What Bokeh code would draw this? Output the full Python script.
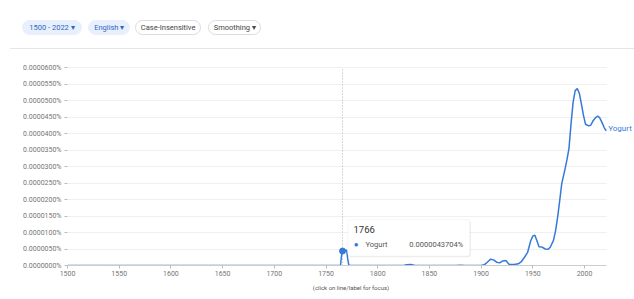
from bokeh.plotting import figure
from bokeh.models import (ColumnDataSource, Range1d, FixedTicker, PrintfTickFormatter,
                          Label, BoxAnnotation, Div)
from bokeh.layouts import column
from bokeh.embed import file_html
from bokeh.resources import INLINE

# ---- data (values are in percent) ----
years = [1500, 1760, 1764, 1765, 1766, 1767, 1770, 1771, 1772, 1773,
         1825, 1828, 1832, 1836, 1875, 1880, 1885, 1900, 1903, 1906,
         1909, 1912, 1915, 1918, 1921, 1924, 1927, 1932, 1936, 1939,
         1942, 1945, 1948, 1950, 1952, 1954, 1956, 1959, 1962, 1965,
         1967, 1970, 1972, 1974, 1976, 1978, 1981, 1983, 1985, 1987,
         1989, 1991, 1993, 1995, 1997, 1999, 2001, 2004, 2006, 2008,
         2011, 2013, 2015, 2017, 2019, 2021]
yogurt = [0.0, 0.0, 0.0, 0.0000030, 0.0000043704, 0.0000046, 0.0000046, 0.0000020, 0.0000002, 0.0,
          0.0, 0.0000002, 0.0000003, 0.0, 0.0, 0.0000001, 0.0, 0.0, 0.0000002, 0.0000010,
          0.0000019, 0.0000017, 0.0000010, 0.0000008, 0.0000014, 0.0000015, 0.0000004, 0.0000003, 0.0000005, 0.0000012,
          0.0000025, 0.0000040, 0.0000075, 0.0000089, 0.0000092, 0.0000075, 0.0000057, 0.0000056, 0.0000050, 0.0000049,
          0.0000056, 0.0000076, 0.0000105, 0.0000146, 0.0000196, 0.0000248, 0.0000290, 0.0000320, 0.0000355, 0.0000430,
          0.0000495, 0.0000530, 0.0000536, 0.0000522, 0.0000490, 0.0000455, 0.0000428, 0.0000423, 0.0000425, 0.0000437,
          0.0000449, 0.0000453, 0.0000446, 0.0000433, 0.0000418, 0.0000408]
series_name = "Yogurt"
focus_year = 1766
focus_value = 0.0000043704
focus_text = "0.0000043704%"
y_ticks = [0.0, 0.000005, 0.00001, 0.000015, 0.00002, 0.000025, 0.00003,
           0.000035, 0.00004, 0.000045, 0.00005, 0.000055, 0.00006]
x_ticks = [1500, 1550, 1600, 1650, 1700, 1750, 1800, 1850, 1900, 1950, 2000]
x_start, x_last = 1500, 2021.5
pills = ["1500 - 2022 \u25BE", "English \u25BE", "Case-Insensitive", "Smoothing \u25BE"]
footer = "(click on line/label for focus)"

FONT = "Roboto"
BLUE = "#3579d9"

# ---- header (controls row + separator) ----
pill_boxes = [(22.3, 61.4), (88.3, 44.0), (135.0, 68.3), (208.3, 55.0)]
html = ['<div style="position:relative;width:634px;height:56px;font-family:Roboto,sans-serif;">']
for i, (t, (lx, w)) in enumerate(zip(pills, pill_boxes)):
    if i < 2:
        style = "background:#e8f0fe;color:#2f66c4;border:1px solid #e8f0fe;"
    else:
        style = "background:#ffffff;color:#444444;border:1px solid #dadce0;"
    html.append(
        f'<span style="position:absolute;left:{lx}px;top:20px;width:{w - 2}px;height:14.7px;'
        f'line-height:14.7px;border-radius:9px;font-size:7.5px;text-align:center;'
        f'white-space:nowrap;{style}">{t}</span>')
html.append('<div style="position:absolute;left:10px;top:47.5px;width:624px;height:1px;background:#e6e6e6;"></div>')
html.append('</div>')
header = Div(text="".join(html), width=634, height=56, margin=(0, 0, 0, 0))

# ---- chart ----
px_per_year = 517 / 500
x_end = x_start + 567 / px_per_year
y_end = y_ticks[-1] * (265 - 56) / 198

p = figure(width=634, height=243, output_backend="svg", toolbar_location=None,
           x_range=Range1d(x_start, x_end), y_range=Range1d(0, y_end),
           min_border_left=67, min_border_right=0, min_border_top=0, min_border_bottom=34,
           margin=(0, 0, 0, 0))
p.outline_line_color = None
p.background_fill_color = "white"
p.border_fill_color = "white"

p.xaxis.ticker = FixedTicker(ticks=x_ticks)
p.yaxis.ticker = FixedTicker(ticks=y_ticks)
p.yaxis.formatter = PrintfTickFormatter(format="%.7f%%")
for ax in (p.xaxis[0], p.yaxis[0]):
    ax.major_label_text_font = FONT
    ax.major_label_text_font_size = "7px"
    ax.major_label_text_color = "#757575"
    ax.minor_tick_line_color = None
    ax.major_tick_line_color = "#bbbbbb"
    ax.major_tick_in = 0
p.yaxis.axis_line_color = None
p.yaxis.major_tick_out = 3
p.yaxis.major_label_standoff = 3
p.xaxis.axis_line_color = "#cccccc"
p.xaxis.bounds = (x_start, x_last)
p.xaxis.major_tick_out = 3
p.xaxis.major_label_standoff = 2
p.xaxis.axis_label = footer
p.xaxis.axis_label_text_font = FONT
p.xaxis.axis_label_text_font_size = "6px"
p.xaxis.axis_label_text_font_style = "normal"
p.xaxis.axis_label_text_color = "#555555"
p.xaxis.axis_label_standoff = 5
p.xgrid.grid_line_color = None
p.ygrid.grid_line_color = "#f0f0f0"

# hide grid beyond the last year
p.add_layout(BoxAnnotation(left=x_last, level="underlay", fill_color="white",
                           fill_alpha=1, line_color=None))

# hover guide
p.segment(x0=[focus_year], y0=[0], x1=[focus_year], y1=[y_ticks[-1]],
          line_color="#b0b0b0", line_dash="1 2", line_width=1)

src = ColumnDataSource(dict(year=years, value=yogurt))
p.line("year", "value", source=src, line_color=BLUE, line_width=1.5)
p.scatter([focus_year], [focus_value], size=6, color=BLUE)

p.add_layout(Label(x=years[-1], y=yogurt[-1], text=series_name, x_offset=2, y_offset=2,
                   text_font=FONT, text_font_size="8px", text_color=BLUE,
                   text_baseline="middle", text_align="left"))

# page px -> frame-relative screen units (frame left = 67, bottom = 265 on page)
def sx(px):
    return px - 67
def sy(py):
    return 265 - py

# tooltip
p.add_layout(BoxAnnotation(left=sx(348.3), right=sx(470.3), top=sy(220), bottom=sy(256.7),
                           left_units="screen", right_units="screen",
                           top_units="screen", bottom_units="screen",
                           fill_color="black", fill_alpha=0.08, line_color=None,
                           border_radius=3))
p.add_layout(BoxAnnotation(left=sx(347.3), right=sx(469.3), top=sy(219), bottom=sy(255.7),
                           left_units="screen", right_units="screen",
                           top_units="screen", bottom_units="screen",
                           fill_color="white", fill_alpha=1, line_color="#e6e6e6",
                           border_radius=3))
p.add_layout(Label(x=sx(353), y=sy(229.3), x_units="screen", y_units="screen",
                   text=str(focus_year), text_font=FONT, text_font_size="9.5px",
                   text_color="#333333", text_baseline="middle"))
p.add_layout(Label(x=sx(355.7), y=sy(244.3), x_units="screen", y_units="screen",
                   text="\u25CF", text_font=FONT, text_font_size="8px",
                   text_color=BLUE, text_baseline="middle", text_align="center"))
p.add_layout(Label(x=sx(365), y=sy(244.3), x_units="screen", y_units="screen",
                   text=series_name, text_font=FONT, text_font_size="7.5px",
                   text_color="#555555", text_baseline="middle"))
p.add_layout(Label(x=sx(462.7), y=sy(244.3), x_units="screen", y_units="screen",
                   text=focus_text, text_font=FONT, text_font_size="7.5px",
                   text_color="#555555", text_baseline="middle", text_align="right"))

layout = column(header, p, spacing=0, margin=(0, 0, 0, 0))
open("out.html", "w").write(file_html(layout, INLINE))
